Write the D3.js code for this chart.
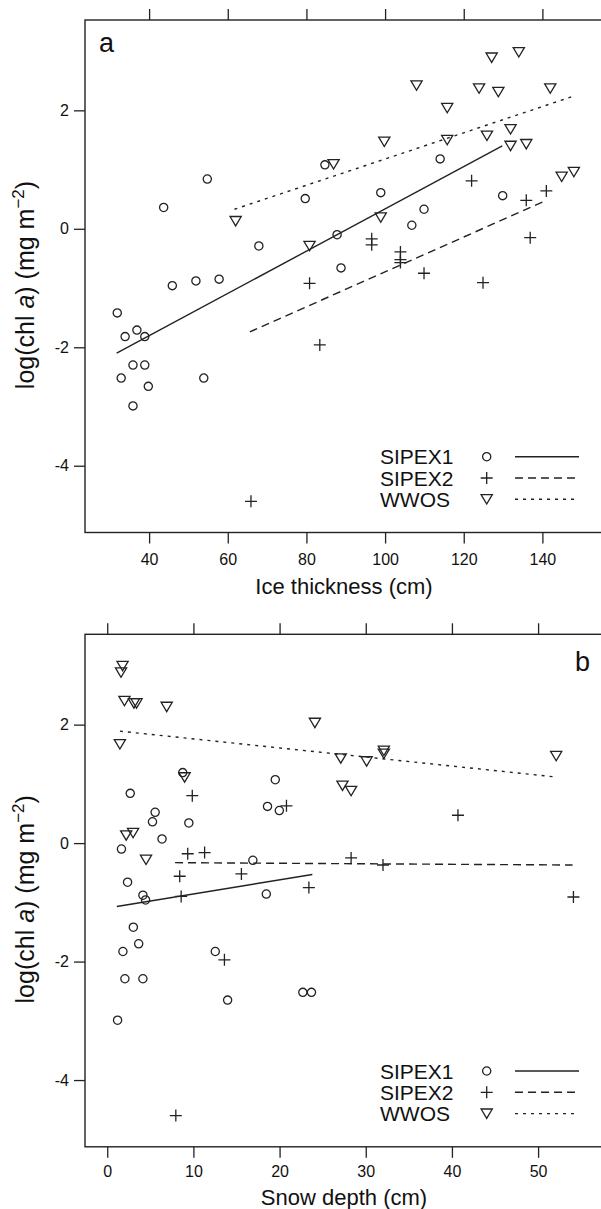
<!DOCTYPE html>
<html>
<head>
<meta charset="utf-8">
<script src="https://cdn.jsdelivr.net/npm/d3@7"></script>
<style>
  body { margin: 0; background: #fff; }
  svg { display: block; font-family: "Liberation Sans", Arial, sans-serif; }
</style>
</head>
<body>
<div id="chart"></div>
<script>
// values: [x, log(chl a)]
const iceSipex1 = [[84.7,1.08],[54.8,0.84],[43.7,0.36],[79.7,0.51],[98.9,0.61],[114.0,1.18],[129.9,0.56],[109.9,0.33],[106.8,0.06],[87.8,-0.10],[67.9,-0.29],[88.8,-0.66],[45.9,-0.96],[51.9,-0.88],[57.8,-0.85],[31.9,-1.42],[36.9,-1.71],[33.9,-1.82],[38.9,-1.82],[35.9,-2.30],[38.9,-2.30],[32.9,-2.52],[53.9,-2.52],[39.8,-2.66],[35.9,-2.99]]
const iceSipex2 = [[122.0,0.81],[141.0,0.64],[135.9,0.48],[136.9,-0.15],[96.6,-0.17],[96.6,-0.27],[103.9,-0.39],[103.9,-0.52],[103.9,-0.57],[109.9,-0.75],[80.8,-0.92],[124.9,-0.91],[83.4,-1.96],[65.9,-4.60]]
const iceWwos = [[127.1,2.89],[134.0,2.98],[108.0,2.42],[123.9,2.37],[128.8,2.31],[142.0,2.37],[115.8,2.04],[99.8,1.47],[115.8,1.50],[125.9,1.57],[131.9,1.68],[131.9,1.40],[135.9,1.43],[86.9,1.09],[144.9,0.88],[148.0,0.96],[98.9,0.19],[62.0,0.13],[80.8,-0.29]]

const snowSipex1 = [[8.76,1.19],[19.5,1.07],[2.67,0.84],[5.56,0.52],[5.25,0.36],[9.47,0.34],[18.6,0.62],[19.97,0.55],[6.36,0.07],[1.65,-0.10],[16.9,-0.29],[2.36,-0.66],[18.46,-0.86],[4.14,-0.88],[4.45,-0.96],[3.03,-1.42],[3.65,-1.70],[1.82,-1.83],[12.54,-1.83],[2.05,-2.29],[4.14,-2.29],[22.7,-2.52],[23.7,-2.52],[13.97,-2.65],[1.2,-2.99]]
const snowSipex2 = [[9.87,0.80],[20.8,0.63],[40.7,0.47],[9.34,-0.18],[11.3,-0.16],[28.3,-0.25],[32.0,-0.37],[15.57,-0.52],[8.41,-0.56],[23.4,-0.75],[8.58,-0.90],[54.1,-0.91],[13.6,-1.97],[7.96,-4.60]]
const snowWwos = [[1.78,2.99],[1.60,2.88],[2.0,2.40],[3.1,2.36],[3.4,2.36],[6.9,2.30],[24.1,2.03],[1.47,1.67],[27.1,1.43],[30.1,1.38],[32.1,1.56],[32.1,1.51],[52.1,1.47],[8.98,1.11],[27.3,0.97],[28.3,0.88],[2.2,0.13],[3.0,0.17],[4.5,-0.28]]

// fitted lines (end points)
const iceFits = [[[31.75,-2.10],[129.8,1.40]], [[65.6,-1.74],[141.0,0.48]], [[61.7,0.33],[147.5,2.23]]]
const snowFits = [[[1.11,-1.07],[23.8,-0.53]], [[7.87,-0.33],[54.0,-0.37]], [[1.47,1.89],[51.8,1.12]]]

const seriesNames = ["SIPEX1", "SIPEX2", "WWOS"]
const iceTicks = [40, 60, 80, 100, 120, 140]
const snowTicks = [0, 10, 20, 30, 40, 50]
const yTicks = [-4, -2, 0, 2]

const width = 601, height = 1209
const ink = "#222"
const dashes = [null, "8,5", "3,5"]

const svg = d3.select("#chart").append("svg")
  .attr("width", width).attr("height", height)

function symbol(g, i) {
  if (i === 0) {
    g.append("circle").attr("r", 4.1)
  } else if (i === 1) {
    g.append("path").attr("d", "M-6,0H6M0,-6V6")
  } else {
    g.append("path").attr("d", "M-5.6,-4.6H5.6L0,4.8Z")
  }
}

function panel(cfg) {
  const x = d3.scaleLinear().domain(cfg.xDomain).range([85, 601])
  const y = d3.scaleLinear().domain([-5.127, 3.525]).range([cfg.top + 512.5, cfg.top])
  const g = svg.append("g")
  const bottom = cfg.top + 512.5

  // bottom axis
  const ax = g.append("g").attr("transform", `translate(0,${bottom})`)
    .call(d3.axisBottom(x).tickValues(cfg.ticks).tickSize(11).tickSizeOuter(0).tickPadding(cfg.tickPad))
  // top axis, ticks only
  const at = g.append("g").attr("transform", `translate(0,${cfg.top})`)
    .call(d3.axisTop(x).tickValues(cfg.ticks).tickSize(11).tickSizeOuter(0).tickFormat(""))
  // left axis
  const al = g.append("g").attr("transform", "translate(85,0)")
    .call(d3.axisLeft(y).tickValues(yTicks).tickSize(11).tickSizeOuter(0).tickPadding(5).tickFormat(d => d3.format("d")(d).replace("−", "-")))

  ;[ax, at, al].forEach(a => {
    a.select(".domain").remove()
    a.selectAll("line").attr("stroke", ink).attr("stroke-width", 1.3)
    a.selectAll("text").attr("font-size", 16).attr("fill", "#111")
      .attr("font-family", "'Liberation Sans', Arial, sans-serif")
  })

  g.append("rect")
    .attr("x", 85).attr("y", cfg.top)
    .attr("width", 520).attr("height", bottom - cfg.top)
    .attr("fill", "none").attr("stroke", ink).attr("stroke-width", 1.4)

  // points
  cfg.series.forEach((pts, i) => {
    g.append("g").selectAll("g").data(pts).join("g")
      .attr("transform", d => `translate(${x(d[0])},${y(d[1])})`)
      .attr("fill", "none").attr("stroke", ink).attr("stroke-width", 1.3)
      .each(function () { symbol(d3.select(this), i) })
  })

  // fitted lines
  const line = d3.line().x(d => x(d[0])).y(d => y(d[1]))
  cfg.fits.forEach((f, i) => {
    g.append("path").attr("d", line(f))
      .attr("fill", "none").attr("stroke", ink).attr("stroke-width", 1.4)
      .attr("stroke-dasharray", dashes[i])
  })

  // panel letter
  g.append("text").text(cfg.letter)
    .attr("x", cfg.letterX).attr("y", cfg.top + cfg.letterDy)
    .attr("font-size", 27).attr("fill", "#111")

  // legend
  const lg = g.append("g")
  seriesNames.forEach((name, i) => {
    const cy = cfg.top + 436.7 + i * 21.3
    lg.append("text").text(name).attr("x", 380).attr("y", cy + 7.5)
      .attr("font-size", 21).attr("fill", "#111")
    const s = lg.append("g").attr("transform", `translate(486.7,${cy})`)
      .attr("fill", "none").attr("stroke", ink).attr("stroke-width", 1.3)
    symbol(s, i)
    lg.append("line").attr("x1", 515).attr("x2", 579).attr("y1", cy).attr("y2", cy)
      .attr("stroke", ink).attr("stroke-width", 1.4).attr("stroke-dasharray", dashes[i])
  })

  // axis titles
  g.append("text").text(cfg.xTitle)
    .attr("x", 344).attr("y", bottom + cfg.titleDy)
    .attr("text-anchor", "middle").attr("font-size", 22).attr("fill", "#111")

  const yl = g.append("text")
    .attr("transform", `translate(34,${cfg.top + 265}) rotate(-90)`)
    .attr("text-anchor", "middle").attr("font-size", 25).attr("fill", "#111")
  yl.append("tspan").text("log(chl ")
  yl.append("tspan").text("a").attr("font-style", "italic")
  yl.append("tspan").text(") (mg m")
  yl.append("tspan").text("−2").attr("font-size", 17).attr("dy", -10)
  yl.append("tspan").text(")").attr("dy", 10)
}

panel({
  top: 20, xDomain: [23.7, 154.9], ticks: iceTicks, tickPad: 10,
  series: [iceSipex1, iceSipex2, iceWwos], fits: iceFits,
  letter: "a", letterX: 99, letterDy: 32.3,
  xTitle: "Ice thickness (cm)", titleDy: 61
})

panel({
  top: 634.3, xDomain: [-2.58, 57.3], ticks: snowTicks, tickPad: 7.5,
  series: [snowSipex1, snowSipex2, snowWwos], fits: snowFits,
  letter: "b", letterX: 575, letterDy: 36.7,
  xTitle: "Snow depth (cm)", titleDy: 58
})
</script>
</body>
</html>
